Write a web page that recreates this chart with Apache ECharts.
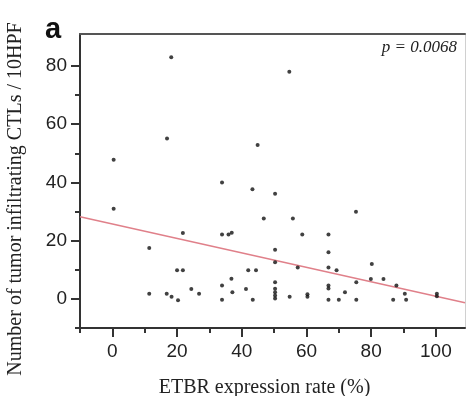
<!DOCTYPE html>
<html>
<head>
<meta charset="utf-8">
<script src="https://cdn.jsdelivr.net/npm/echarts@6/dist/echarts.min.js"></script>
<style>html,body{margin:0;padding:0;background:#fff;}#c{width:468px;height:396px;}</style>
</head>
<body>
<div id="c"></div>
<script>
// ETBR expression rate (%)
var etbr = [0.4,0.4,18.2,16.9,33.9,54.7,44.9,43.3,50.3,21.8,11.4,46.8,55.8,33.9,35.9,36.9,58.7,66.8,50.3,66.8,75.3,
  20.0,21.8,11.4,16.8,18.3,20.3,24.4,26.8,50.3,57.3,66.8,42.0,44.4,36.8,33.9,37.1,41.3,33.9,43.4,
  50.3,50.3,50.3,50.3,50.3,54.8,60.3,60.3,66.8,66.8,66.8,69.3,70.0,71.9,75.4,75.4,80.2,79.9,83.8,87.8,86.8,90.4,90.8,100.3,100.3];
// Number of tumor infiltrating CTLs / 10HPF
var ctl = [47.8,31.0,83.0,55.1,40.0,78.0,52.9,37.7,36.1,22.6,17.5,27.6,27.6,22.1,22.1,22.7,22.1,22.1,16.9,16.0,29.9,
  9.8,9.8,1.8,1.8,0.7,-0.5,3.4,1.8,12.6,10.8,10.8,9.8,9.8,6.9,4.6,2.3,3.4,-0.3,-0.3,
  5.7,3.5,2.3,1.2,0.1,0.7,1.6,0.7,4.6,3.6,-0.3,9.8,-0.3,2.3,5.7,-0.3,12.0,6.8,6.8,4.6,-0.3,1.8,-0.3,1.8,0.9];
// regression line end points
var fitX = [-10, 109];
var fitY = [28.2, -1.3];
var xMajor = [0,20,40,60,80,100];
var xMinor = [-10,10,30,50,70,90];
var yMajor = [0,20,40,60,80];
var yMinor = [-10,10,30,50,70];
var pText = 'p = 0.0068';

var pts = etbr.map(function(x,i){return [x, ctl[i]];});
var fit = fitX.map(function(x,i){return [x, fitY[i]];});

var XMIN=-10, XMAX=109, YMIN=-10, YMAX=91;
var axisCol = '#333';
var tickFont = {fontFamily:'Liberation Sans', fontSize:19, color:'#222'};

var chart = echarts.init(document.getElementById('c'), null, {renderer:'canvas'});
chart.setOption({
  animation:false,
  backgroundColor:'#fff',
  grid:{left:80, top:34, right:3, bottom:68, containLabel:false, outerBoundsMode:'none'},
  xAxis:[
    {type:'value', position:'bottom', min:XMIN, max:XMAX,
     name:'ETBR expression rate (%)', nameLocation:'middle', nameGap:50,
     nameTextStyle:{fontFamily:'Liberation Serif', fontSize:20, color:'#222', padding:[0,16,0,0]},
     axisLine:{show:true, onZero:false, lineStyle:{color:axisCol, width:2}},
     axisTick:{show:true, customValues:xMajor, length:9, lineStyle:{color:axisCol, width:2}},
     axisLabel:{customValues:xMajor, margin:14, fontFamily:tickFont.fontFamily, fontSize:tickFont.fontSize, color:tickFont.color},
     splitLine:{show:false}},
    {type:'value', position:'bottom', min:XMIN, max:XMAX,
     axisLine:{show:false, onZero:false},
     axisTick:{show:true, customValues:xMinor, length:5, lineStyle:{color:axisCol, width:2}},
     axisLabel:{show:false}, splitLine:{show:false}},
    {type:'value', position:'top', min:XMIN, max:XMAX,
     axisLine:{show:true, onZero:false, lineStyle:{color:'#555', width:2}},
     axisTick:{show:false}, axisLabel:{show:false}, splitLine:{show:false}}
  ],
  yAxis:[
    {type:'value', position:'left', min:YMIN, max:YMAX,
     name:'Number of tumor infiltrating CTLs / 10HPF', nameLocation:'middle', nameGap:54,
     nameTextStyle:{fontFamily:'Liberation Serif', fontSize:20, color:'#222', padding:[0,36,0,0]},
     axisLine:{show:true, onZero:false, lineStyle:{color:axisCol, width:2}},
     axisTick:{show:true, customValues:yMajor, length:9, lineStyle:{color:axisCol, width:2}},
     axisLabel:{customValues:yMajor, margin:13, fontFamily:tickFont.fontFamily, fontSize:tickFont.fontSize, color:tickFont.color},
     splitLine:{show:false}},
    {type:'value', position:'left', min:YMIN, max:YMAX,
     axisLine:{show:false, onZero:false},
     axisTick:{show:true, customValues:yMinor, length:5, lineStyle:{color:axisCol, width:2}},
     axisLabel:{show:false}, splitLine:{show:false}},
    {type:'value', position:'right', min:YMIN, max:YMAX,
     axisLine:{show:true, onZero:false, lineStyle:{color:'#d0d0d0', width:1}},
     axisTick:{show:false}, axisLabel:{show:false}, splitLine:{show:false}}
  ],
  graphic:[
    {type:'text', left:45, top:15, style:{text:'a', font:'bold 29px "Liberation Sans"', fill:'#111'}},
    {type:'text', right:11, top:39, style:{text:pText, font:'italic 17px "Liberation Serif"', fill:'#222'}}
  ],
  series:[
    {type:'line', xAxisIndex:0, yAxisIndex:0, data:fit, symbol:'none', silent:true,
     lineStyle:{color:'#e0808a', width:1.5}, z:1},
    {type:'scatter', xAxisIndex:0, yAxisIndex:0, data:pts, symbol:'circle', symbolSize:4,
     itemStyle:{color:'#111'}, z:2}
  ]
});
</script>
</body>
</html>
